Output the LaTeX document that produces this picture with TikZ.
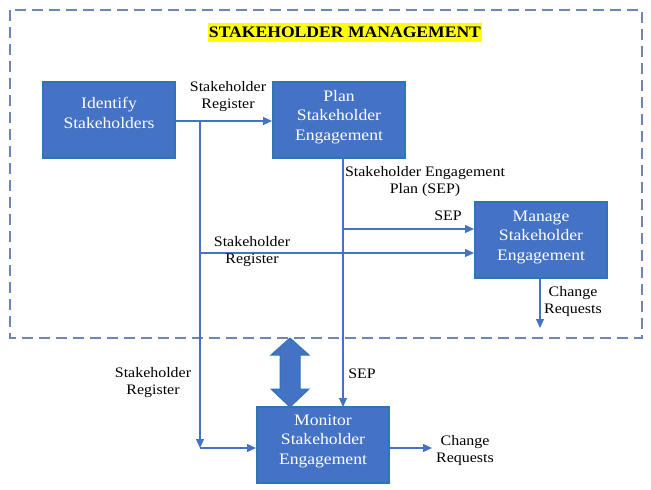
\documentclass[tikz,border=0pt]{standalone}
\usepackage{fontspec}
\setmainfont{Liberation Serif}[FakeStretch=1.1]
\usetikzlibrary{arrows.meta}
\definecolor{boxfill}{HTML}{4472C4}
\definecolor{boxline}{HTML}{2E75B6}
\definecolor{frameline}{HTML}{6F86B5}
\definecolor{hl}{HTML}{FFFF00}
\begin{document}
\begin{tikzpicture}[x=1pt,y=-1pt,
  proc/.style={draw=boxline,line width=2pt,fill=boxfill,
    minimum width=132pt,minimum height=76pt,inner sep=0pt},
  boxtxt/.style={text=white,align=center,inner sep=0pt,
    font=\fontsize{16}{19.5}\selectfont},
  lbl/.style={align=center,inner sep=0pt,font=\fontsize{14.5}{17}\selectfont},
  flow/.style={draw=boxfill,line width=1.2pt,-{Triangle[length=9pt,width=8pt]}}]
\useasboundingbox (0,0) rectangle (651,490);
\fill[white] (0,0) rectangle (651,490);
% frame
\draw[frameline,line width=1.8pt,dash pattern=on 11pt off 6pt] (10,10) rectangle (642,338);
\node[fill=hl,inner xsep=1pt,minimum height=19pt,inner ysep=0pt,font=\bfseries\fontsize{16}{18}\selectfont] (title) at (345,32) {STAKEHOLDER MANAGEMENT};
% boxes
\node[proc,label={[boxtxt,yshift=7pt]center:Identify\\Stakeholders}] (id) at (109,120) {};
\node[proc,label={[boxtxt,yshift=3pt]center:Plan\\Stakeholder\\Engagement}] (plan) at (339,120) {};
\node[proc,label={[boxtxt,yshift=3pt]center:Manage\\Stakeholder\\Engagement}] (man) at (541,240) {};
\node[proc,label={[boxtxt,yshift=4pt]center:Monitor\\Stakeholder\\Engagement}] (mon) at (323,445) {};
% coordinates
\coordinate (j1) at (200,121);
\coordinate (j2) at (200,253);
\coordinate (j3) at (200,448);
\coordinate (p1) at (343,158);
\coordinate (p2) at (343,229);
\coordinate (p3) at (343,407);
\coordinate (c1) at (540,328);
\coordinate (c2) at (432,448);
% connectors
\draw[flow] (id.east |- j1) -- (plan.west |- j1);
\draw[flow] (j1) -- (j3);
\draw[flow] (j3) -- (mon.west |- j3);
\draw[flow] (j2) -- (man.west |- j2);
\draw[flow] (p1) -- (p3);
\draw[flow] (p2) -- (man.west |- p2);
\draw[flow] (man.south -| c1) -- (c1);
\draw[flow] (mon.east |- c2) -- (c2);
% double arrow
\draw[draw=boxline,fill=boxfill,line width=1pt]
  (290,338) -- (309,355) -- (300,355) -- (300,389) -- (309,389) -- (290,407)
  -- (271,389) -- (280,389) -- (280,355) -- (271,355) -- cycle;
% labels
\node[lbl] (l1) at (228,97) {Stakeholder\\Register};
\node[lbl] (l2) at (425,182) {Stakeholder Engagement\\Plan (SEP)};
\node[lbl] (l3) at (448,216) {SEP};
\node[lbl] (l4) at (252,252) {Stakeholder\\Register};
\node[lbl] (l5) at (573,302) {Change\\Requests};
\node[lbl] (l6) at (153,383) {Stakeholder\\Register};
\node[lbl] (l7) at (362,374) {SEP};
\node[lbl] (l8) at (465,451) {Change\\Requests};
\end{tikzpicture}
\end{document}
